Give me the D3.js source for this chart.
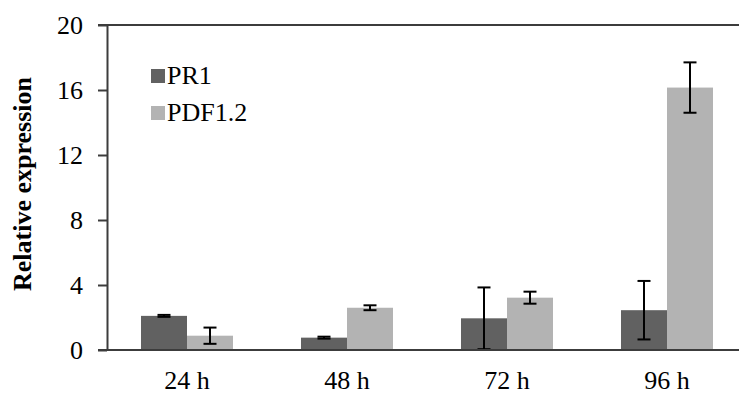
<!DOCTYPE html>
<html>
<head>
<meta charset="utf-8">
<script src="https://cdn.jsdelivr.net/npm/d3@7"></script>
<style>
  html, body { margin: 0; padding: 0; background: #fff; }
  svg { display: block; }
  text { font-family: "Liberation Serif", "Times New Roman", serif; fill: #000; }
</style>
</head>
<body>
<svg id="chart" width="739" height="394"></svg>
<script>
// Time points and gene series
const categories = ["24 h", "48 h", "72 h", "96 h"];
const series = ["PR1", "PDF1.2"];
const pr1Values = [2.1, 0.76, 1.95, 2.45];
const pr1Errors = [0.06, 0.06, 1.9, 1.8];
const pdfValues = [0.88, 2.6, 3.22, 16.15];
const pdfErrors = [0.5, 0.15, 0.37, 1.55];
const yTicks = [0, 4, 8, 12, 16, 20];

const colors = { "PR1": "#616161", "PDF1.2": "#b3b3b3" };

const rows = categories.map((c, i) => ({
  category: c,
  bars: [
    { key: "PR1", value: pr1Values[i], err: pr1Errors[i] },
    { key: "PDF1.2", value: pdfValues[i], err: pdfErrors[i] }
  ]
}));

const svg = d3.select("#chart");
const plotLeft = 107, plotRight = 747, plotTop = 25, plotBottom = 350;
const fontSize = 26;

const x0 = d3.scaleBand().domain(categories).range([plotLeft, plotRight]).padding(0);
const x1 = d3.scaleBand().domain(series).range([0, x0.bandwidth()])
  .paddingInner(0).paddingOuter(0.739);
const y = d3.scaleLinear().domain([0, 20]).range([plotBottom, plotTop]);

// Top frame line
svg.append("line")
  .attr("x1", plotLeft - 9).attr("x2", 739)
  .attr("y1", y(20)).attr("y2", y(20))
  .attr("stroke", "#3c3c3c").attr("stroke-width", 2);

// Bars
const groups = svg.append("g").selectAll("g")
  .data(rows).join("g")
  .attr("transform", d => `translate(${x0(d.category)},0)`);

groups.selectAll("rect")
  .data(d => d.bars).join("rect")
  .attr("x", d => x1(d.key))
  .attr("width", x1.bandwidth())
  .attr("y", d => y(d.value))
  .attr("height", d => y(0) - y(d.value))
  .attr("fill", d => colors[d.key]);

// Error bars
const capHalf = 6.5;
const eb = groups.selectAll("g.err")
  .data(d => d.bars).join("g").attr("class", "err")
  .attr("transform", d => `translate(${x1(d.key) + x1.bandwidth() / 2},0)`);

eb.append("line")
  .attr("y1", d => y(d.value + d.err))
  .attr("y2", d => y(Math.max(0, d.value - d.err)))
  .attr("stroke", "#000").attr("stroke-width", 2);
eb.append("line")
  .attr("x1", -capHalf).attr("x2", capHalf)
  .attr("y1", d => y(d.value + d.err)).attr("y2", d => y(d.value + d.err))
  .attr("stroke", "#000").attr("stroke-width", 2);
eb.append("line")
  .attr("x1", -capHalf).attr("x2", capHalf)
  .attr("y1", d => y(Math.max(0, d.value - d.err))).attr("y2", d => y(Math.max(0, d.value - d.err)))
  .attr("stroke", "#000").attr("stroke-width", 2);

// Y axis
const yAxis = svg.append("g")
  .attr("transform", `translate(${plotLeft},0)`)
  .call(d3.axisLeft(y).tickValues(yTicks).tickSize(9).tickPadding(15).tickSizeOuter(0));
yAxis.select(".domain").attr("stroke", "#3c3c3c").attr("stroke-width", 2);
yAxis.selectAll(".tick line").attr("stroke", "#3c3c3c").attr("stroke-width", 2);
yAxis.selectAll(".tick text")
  .attr("font-size", fontSize)
  .attr("fill", "#1a1a1a");

// X axis
const xAxis = svg.append("g")
  .attr("transform", `translate(0,${plotBottom})`)
  .call(d3.axisBottom(x0).tickSize(0).tickPadding(21).tickSizeOuter(0));
xAxis.select(".domain").attr("stroke", "#3c3c3c").attr("stroke-width", 2)
  .attr("d", `M${plotLeft - 9},0H739`);
xAxis.selectAll(".tick text")
  .attr("font-size", fontSize)
  .attr("fill", "#1a1a1a")
  .attr("dy", "0.71em");
svg.selectAll("g[font-family]").attr("font-family", null);

// Y axis title
svg.append("text")
  .attr("transform", "translate(31,184) rotate(-90)")
  .attr("text-anchor", "middle")
  .attr("font-size", fontSize)
  .attr("font-weight", "bold")
  .text("Relative expression");

// Legend
const legend = svg.append("g").attr("transform", "translate(151,69)");
const li = legend.selectAll("g").data(series).join("g")
  .attr("transform", (d, i) => `translate(0,${i * 37})`);
li.append("rect").attr("width", 14).attr("height", 14).attr("fill", d => colors[d]);
li.append("text").attr("x", 16).attr("y", 15)
  .attr("font-size", fontSize)
  .text(d => d);
</script>
</body>
</html>
